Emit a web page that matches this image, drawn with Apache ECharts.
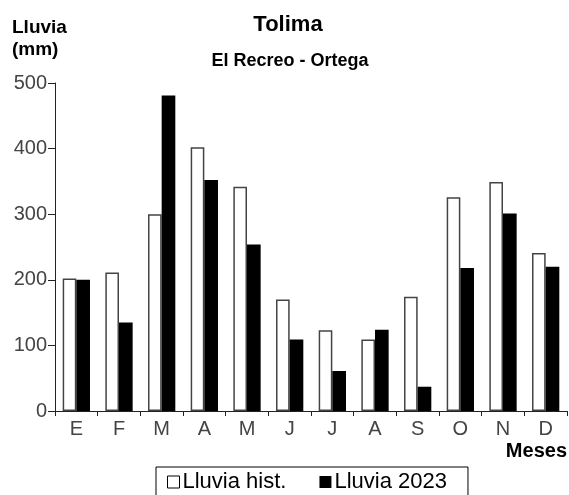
<!DOCTYPE html>
<html><head><meta charset="utf-8">
<script src="https://cdn.jsdelivr.net/npm/echarts@6/dist/echarts.min.js"></script>
<style>html,body{margin:0;padding:0;background:#fff}#c{width:569px;height:495px}</style>
</head><body><div id="c"></div>
<script>
const months = ['E','F','M','A','M','J','J','A','S','O','N','D'];
const lluviaHist = [202, 211, 300, 402, 342, 170, 123, 109, 174, 326, 349, 241];
const lluvia2023 = [200, 135, 481, 352, 254, 109, 61, 124, 37, 218, 301, 220];
const yTicks = [0, 100, 200, 300, 400, 500];

const chart = echarts.init(document.getElementById('c'), null, {renderer:'canvas'});
const FF = '"Liberation Sans", Arial, sans-serif';
chart.setOption({
  animation:false,
  backgroundColor:'#fff',
  textStyle:{fontFamily:FF},
  graphic:[
    {type:'text', x:288, y:25, style:{text:'Tolima', font:'bold 22px "Liberation Sans", Arial', fill:'#000', textAlign:'center', textVerticalAlign:'middle'}},
    {type:'text', x:290, y:61, style:{text:'El Recreo - Ortega', font:'bold 18px "Liberation Sans", Arial', fill:'#000', textAlign:'center', textVerticalAlign:'middle'}},
    {type:'text', x:12, y:28, style:{text:'Lluvia', font:'bold 19px "Liberation Sans", Arial', fill:'#000', textVerticalAlign:'middle'}},
    {type:'text', x:12, y:50, style:{text:'(mm)', font:'bold 19px "Liberation Sans", Arial', fill:'#000', textVerticalAlign:'middle'}},
    {type:'text', x:567, y:451, style:{text:'Meses', font:'bold 20px "Liberation Sans", Arial', fill:'#000', textAlign:'right', textVerticalAlign:'middle'}}
  ],
  legend:{
    left:156, top:467,
    data:[
      {name:'Lluvia hist.', icon:'rect', itemStyle:{color:'#fff', borderColor:'#000', borderWidth:1}},
      {name:'Lluvia 2023', icon:'rect', itemStyle:{color:'#000'}}
    ],
    itemWidth:12, itemHeight:12, itemGap:33,
    borderColor:'#000', borderWidth:1, padding:[4,21,4,11],
    textStyle:{fontFamily:FF, fontSize:22, color:'#000', padding:[0,0,0,-2]}
  },
  grid:{left:55, right:2, top:83, bottom:84, containLabel:false},
  xAxis:{
    type:'category', data:months, boundaryGap:true,
    axisLine:{lineStyle:{color:'#222', width:1}},
    axisTick:{show:true, alignWithLabel:false, length:5, lineStyle:{color:'#222'}},
    axisLabel:{fontFamily:FF, fontSize:20, color:'#444', margin:8}
  },
  yAxis:{
    type:'value', min:0, max:500, interval:100,
    splitLine:{show:false},
    axisLine:{show:true, lineStyle:{color:'#222', width:1}},
    axisTick:{show:true, length:7, lineStyle:{color:'#222'}},
    axisLabel:{fontFamily:FF, fontSize:20, color:'#444', margin:8,
      formatter:v=>yTicks.includes(v)?String(v):''}
  },
  series:[
    {name:'Lluvia hist.', type:'bar', data:lluviaHist, barWidth:'32%', barGap:'0%',
      itemStyle:{color:'#fff', borderColor:'#444', borderWidth:1.5}},
    {name:'Lluvia 2023', type:'bar', data:lluvia2023, barWidth:'32%', barGap:'0%',
      itemStyle:{color:'#000', borderColor:'#000', borderWidth:0}}
  ]
});
</script></body></html>
